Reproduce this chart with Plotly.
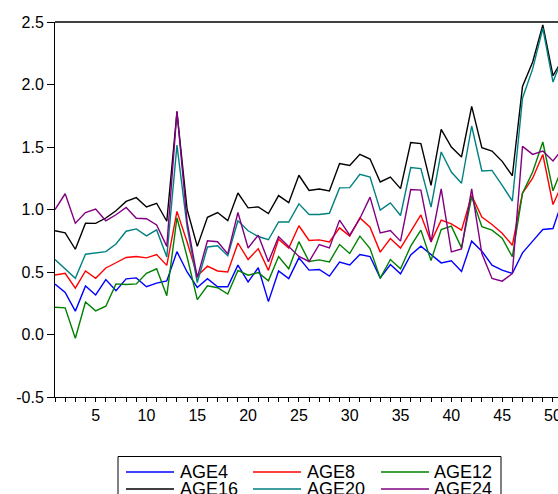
import plotly.graph_objects as go

periods = list(range(1, 52))

age4 = [0.403, 0.337, 0.187, 0.389, 0.316, 0.439, 0.350, 0.445, 0.453, 0.382,
        0.411, 0.429, 0.663, 0.500, 0.376, 0.447, 0.382, 0.382, 0.555, 0.421,
        0.534, 0.263, 0.508, 0.447, 0.613, 0.515, 0.520, 0.467, 0.579, 0.557,
        0.640, 0.624, 0.453, 0.560, 0.485, 0.637, 0.707, 0.640, 0.573, 0.589,
        0.504, 0.747, 0.667, 0.555, 0.515, 0.488, 0.653, 0.747, 0.840, 0.848,
        1.090]
age8 = [0.476, 0.489, 0.371, 0.508, 0.450, 0.532, 0.574, 0.616, 0.624, 0.613,
        0.639, 0.553, 0.985, 0.740, 0.468, 0.547, 0.508, 0.500, 0.732, 0.600,
        0.687, 0.513, 0.763, 0.692, 0.870, 0.752, 0.757, 0.741, 0.853, 0.787,
        0.933, 0.859, 0.659, 0.768, 0.691, 0.827, 0.957, 0.741, 0.915, 0.885,
        0.835, 1.112, 0.940, 0.880, 0.810, 0.714, 1.132, 1.250, 1.440, 1.040,
        1.220]
age12 = [0.218, 0.213, -0.030, 0.260, 0.189, 0.226, 0.405, 0.400, 0.405, 0.489,
         0.526, 0.311, 0.934, 0.620, 0.279, 0.389, 0.374, 0.324, 0.513, 0.474,
         0.495, 0.429, 0.624, 0.526, 0.743, 0.584, 0.597, 0.581, 0.720, 0.648,
         0.787, 0.688, 0.451, 0.600, 0.525, 0.707, 0.835, 0.592, 0.840, 0.867,
         0.693, 1.101, 0.862, 0.835, 0.770, 0.622, 1.130, 1.300, 1.540, 1.150,
         1.350]
age16 = [0.830, 0.813, 0.682, 0.890, 0.889, 0.932, 0.990, 1.065, 1.095, 1.020,
         1.050, 0.906, 1.780, 1.000, 0.705, 0.937, 0.976, 0.911, 1.132, 1.013,
         1.021, 0.968, 1.111, 1.055, 1.274, 1.153, 1.164, 1.148, 1.367, 1.353,
         1.441, 1.404, 1.220, 1.260, 1.167, 1.535, 1.527, 1.193, 1.641, 1.500,
         1.420, 1.825, 1.495, 1.468, 1.385, 1.270, 1.985, 2.180, 2.476, 2.070,
         2.210]
age20 = [0.600, 0.526, 0.450, 0.642, 0.655, 0.663, 0.724, 0.826, 0.845, 0.789,
         0.837, 0.621, 1.515, 0.860, 0.416, 0.700, 0.710, 0.630, 0.910, 0.830,
         0.784, 0.758, 0.900, 0.900, 1.045, 0.960, 0.960, 0.970, 1.173, 1.175,
         1.281, 1.260, 0.995, 1.053, 0.952, 1.335, 1.327, 1.019, 1.460, 1.300,
         1.210, 1.668, 1.308, 1.313, 1.193, 1.068, 1.890, 2.125, 2.450, 2.020,
         2.230]
age24 = [1.000, 1.126, 0.890, 0.976, 1.003, 0.910, 0.958, 1.016, 0.930, 0.926,
         0.876, 0.705, 1.787, 0.900, 0.455, 0.750, 0.742, 0.645, 0.976, 0.692,
         0.795, 0.582, 0.782, 0.705, 0.625, 0.584, 0.720, 0.693, 0.915, 0.795,
         0.928, 1.099, 0.813, 0.832, 0.747, 1.160, 1.155, 0.741, 1.165, 0.661,
         0.685, 1.165, 0.648, 0.448, 0.427, 0.488, 1.505, 1.441, 1.468, 1.388,
         1.490]

series_names = ["AGE4", "AGE8", "AGE12", "AGE16", "AGE20", "AGE24"]
series_values = [age4, age8, age12, age16, age20, age24]
series_colors = ["#0000FF", "#FF0000", "#008000", "#000000", "#008080", "#800080"]

x_tickvals = [5, 10, 15, 20, 25, 30, 35, 40, 45, 50]
y_tickvals = [-0.5, 0.0, 0.5, 1.0, 1.5, 2.0, 2.5]
y_ticktext = ["-0.5", "0.0", "0.5", "1.0", "1.5", "2.0", "2.5"]

W, H = 558, 494
ML, MR, MT, MB = 55, 0, 22, 97
PW, PH = W - ML - MR, H - MT - MB
PX_PER_UNIT = 10.163


def px_x(px):
    return (px - ML) / PW


def px_y(py):
    return (H - MB - py) / PH


fig = go.Figure()
for name, vals, col in zip(series_names, series_values, series_colors):
    fig.add_trace(go.Scatter(x=periods, y=vals, mode="lines", name=name,
                             line=dict(color=col, width=1.4), showlegend=False))

FONT = "Liberation Sans, Arial, sans-serif"

# framed legend below the plot: 3 columns x 2 rows
shapes = [
    dict(type="line", xref="paper", yref="paper", x0=0, x1=1, y0=1, y1=1,
         line=dict(color="black", width=1.5)),
    dict(type="rect", xref="paper", yref="paper", x0=px_x(118), x1=px_x(501),
         y0=px_y(456.5), y1=px_y(520), line=dict(color="black", width=1),
         fillcolor="white", layer="below"),
]
annotations = []
col_line_x = [126, 253, 381]
col_text_x = [180, 307, 434]
row_y = [472, 489]
for i, (name, col) in enumerate(zip(series_names, series_colors)):
    c, r = i % 3, i // 3
    shapes.append(dict(type="line", xref="paper", yref="paper",
                       x0=px_x(col_line_x[c]), x1=px_x(col_line_x[c] + 48),
                       y0=px_y(row_y[r]), y1=px_y(row_y[r]),
                       line=dict(color=col, width=1.4)))
    annotations.append(dict(text=name, xref="paper", yref="paper",
                            x=px_x(col_text_x[c] - 2), y=px_y(row_y[r]),
                            xanchor="left", yanchor="middle", showarrow=False,
                            font=dict(size=18, family=FONT, color="black")))

fig.update_layout(
    width=W, height=H,
    margin=dict(l=ML, r=MR, t=MT, b=MB, autoexpand=False),
    paper_bgcolor="white", plot_bgcolor="white",
    font=dict(family=FONT, size=16, color="black"),
    showlegend=False,
    xaxis=dict(range=[1, 1 + PW / PX_PER_UNIT],
               tickvals=x_tickvals, ticks="outside", ticklen=4,
               tickcolor="black", showline=True, linecolor="black", linewidth=1,
               showgrid=False, zeroline=False, mirror=False, automargin=False,
               ticklabeloverflow="allow",
               minor=dict(dtick=1, tick0=1, ticks="outside", ticklen=4, tickcolor="black",
                          showgrid=False),
               tickfont=dict(size=16, family=FONT)),
    yaxis=dict(range=[-0.5, 2.5], tickvals=y_tickvals, ticktext=y_ticktext,
               ticks="outside", ticklen=7, tickcolor="black", showline=True,
               linecolor="black", linewidth=1, showgrid=False, zeroline=False,
               automargin=False, tickfont=dict(size=16, family=FONT)),
    shapes=shapes,
    annotations=annotations,
)

fig.write_html(
    "out.html",
    config={"displayModeBar": False},
    post_script="document.body.style.margin='0';document.body.style.overflow='hidden';",
)
